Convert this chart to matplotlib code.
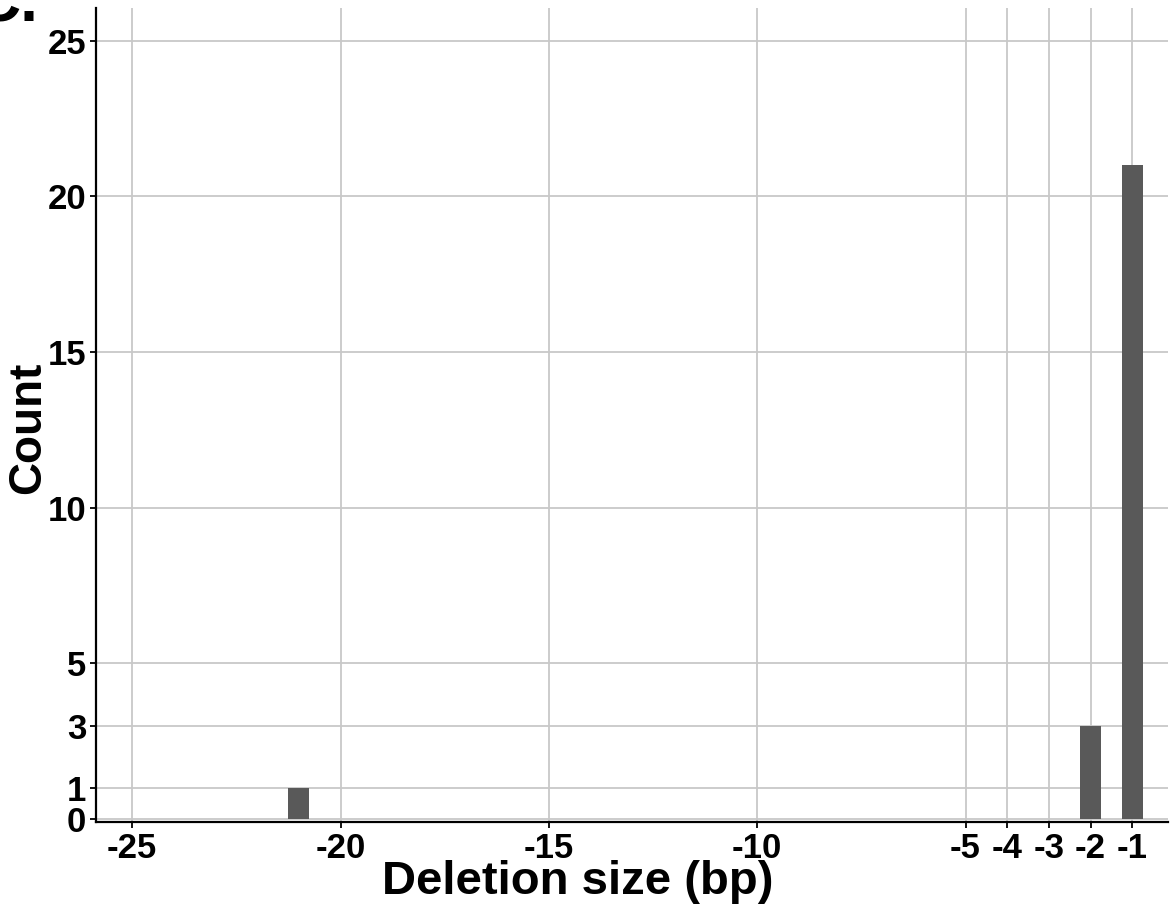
import matplotlib.pyplot as plt

# datos
tamanos = [-21, -2, -1]
conteos = [1, 3, 21]
xticks = [-25, -20, -15, -10, -5, -4, -3, -2, -1]
yticks = [0, 1, 3, 5, 10, 15, 20, 25]

plt.rcParams['font.family'] = ['Liberation Sans', 'DejaVu Sans']
plt.rcParams['font.weight'] = 'bold'

fig = plt.figure(figsize=(11.7, 9.05), dpi=100)
ax = fig.add_axes([96 / 1170, 1 - 822 / 905, (1168 - 96) / 1170, (822 - 8) / 905])

ax.bar(tamanos, conteos, width=0.5, color='#595959', zorder=3)

ax.set_xlim(-25.87, -0.14)
ax.set_ylim(-0.1, 26.05)
ax.set_xticks(xticks)
ax.set_xticklabels([str(t) for t in xticks])
ax.set_yticks(yticks)
ax.set_yticklabels([str(t) for t in yticks])

ax.grid(True, color='#c8c8c8', linewidth=1.3, zorder=0)
ax.set_axisbelow(True)
for s in ['top', 'right']:
    ax.spines[s].set_visible(False)
for s in ['left', 'bottom']:
    ax.spines[s].set_linewidth(1.6)
    ax.spines[s].set_color('black')

ax.tick_params(axis='both', width=1.3, length=4, pad=3, colors='black')
for lab in ax.get_xticklabels() + ax.get_yticklabels():
    lab.set_fontweight('bold')
    lab.set_fontsize(25)

ax.set_xlabel('Deletion size (bp)', fontsize=34, fontweight='bold')
ax.xaxis.set_label_coords(0.449, -0.047)
ax.set_ylabel('Count', fontsize=33, fontweight='bold')
ax.yaxis.set_label_coords(-0.043, 0.484)

fig.text(-26 / 1170, 1 - 21 / 905, 'C.', fontsize=46, fontweight='bold',
         ha='left', va='baseline')

fig.savefig('out.png', dpi=100)
